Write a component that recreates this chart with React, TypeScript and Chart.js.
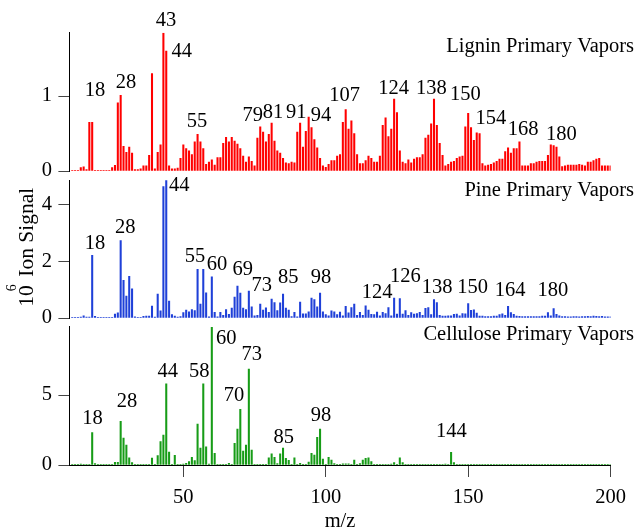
import React, { useEffect, useRef } from 'react';
import { Chart, registerables } from 'chart.js';

Chart.register(...registerables);

const FONT = '"Liberation Serif", "Times New Roman", serif';

// m/z categories 11..200
const MZ_FIRST = 11;
const MZ_LAST = 200;
const mz: number[] = [];
for (let m = MZ_FIRST; m <= MZ_LAST; m++) mz.push(m);

const xTicks = [50, 100, 150, 200];

const lignin = [
  0.01, 0.01, 0.01, 0.045, 0.055, 0.02, 0.65, 0.65, 0.01, 0.01,
  0.01, 0.01, 0.01, 0.01, 0.045, 0.075, 0.91, 1.01, 0.33, 0.25,
  0.32, 0.24, 0.02, 0.02, 0.03, 0.07, 0.07, 0.21, 1.30, 0.03,
  0.25, 0.35, 1.84, 1.60, 0.07, 0.03, 0.03, 0.04, 0.17, 0.35,
  0.30, 0.27, 0.22, 0.39, 0.49, 0.39, 0.30, 0.09, 0.12, 0.15,
  0.08, 0.18, 0.18, 0.37, 0.45, 0.39, 0.45, 0.40, 0.36, 0.30,
  0.20, 0.12, 0.19, 0.13, 0.07, 0.44, 0.59, 0.52, 0.39, 0.49,
  0.64, 0.40, 0.27, 0.24, 0.17, 0.11, 0.10, 0.12, 0.11, 0.52,
  0.64, 0.32, 0.53, 0.72, 0.58, 0.42, 0.31, 0.17, 0.07, 0.05,
  0.09, 0.14, 0.14, 0.20, 0.22, 0.65, 0.82, 0.56, 0.67, 0.50,
  0.22, 0.10, 0.10, 0.14, 0.20, 0.17, 0.12, 0.12, 0.20, 0.61,
  0.71, 0.46, 0.56, 0.96, 0.78, 0.27, 0.12, 0.10, 0.15, 0.11,
  0.16, 0.18, 0.18, 0.22, 0.44, 0.48, 0.63, 0.96, 0.61, 0.37,
  0.21, 0.07, 0.09, 0.12, 0.13, 0.17, 0.19, 0.20, 0.59, 0.77,
  0.58, 0.41, 0.51, 0.50, 0.10, 0.07, 0.08, 0.09, 0.11, 0.13,
  0.16, 0.16, 0.26, 0.31, 0.24, 0.30, 0.30, 0.39, 0.07, 0.07,
  0.07, 0.10, 0.10, 0.12, 0.13, 0.13, 0.13, 0.21, 0.35, 0.34,
  0.32, 0.19, 0.06, 0.07, 0.08, 0.08, 0.08, 0.08, 0.09, 0.08,
  0.07, 0.12, 0.12, 0.14, 0.16, 0.17, 0.07, 0.07, 0.07, 0.07,
];

const pine = [
  0.02, 0.02, 0.02, 0.03, 0.08, 0.03, 0.03, 2.21, 0.06, 0.02,
  0.02, 0.02, 0.02, 0.02, 0.02, 0.14, 0.18, 2.73, 1.33, 0.77,
  1.47, 1.03, 0.04, 0.02, 0.02, 0.06, 0.07, 0.07, 0.42, 0.03,
  0.84, 0.25, 4.63, 4.84, 0.60, 0.12, 0.07, 0.03, 0.05, 0.19,
  0.28, 0.22, 0.30, 0.26, 1.71, 0.49, 1.71, 0.89, 0.04, 1.45,
  0.20, 0.04, 0.20, 0.09, 0.30, 0.13, 0.35, 0.74, 1.12, 0.88,
  0.35, 0.30, 0.95, 0.39, 0.08, 0.09, 0.49, 0.28, 0.36, 0.20,
  0.67, 0.54, 0.26, 0.53, 0.84, 0.35, 0.28, 0.05, 0.20, 0.04,
  0.56, 0.15, 0.15, 0.22, 0.70, 0.65, 0.39, 0.88, 0.22, 0.12,
  0.08, 0.25, 0.22, 0.12, 0.21, 0.08, 0.41, 0.18, 0.37, 0.49,
  0.09, 0.20, 0.09, 0.43, 0.28, 0.13, 0.12, 0.21, 0.08, 0.20,
  0.16, 0.37, 0.08, 0.70, 0.14, 0.68, 0.14, 0.26, 0.09, 0.19,
  0.14, 0.16, 0.20, 0.09, 0.34, 0.37, 0.12, 0.65, 0.54, 0.09,
  0.07, 0.07, 0.08, 0.08, 0.13, 0.14, 0.08, 0.16, 0.15, 0.51,
  0.27, 0.29, 0.17, 0.07, 0.07, 0.05, 0.05, 0.05, 0.07, 0.07,
  0.12, 0.15, 0.09, 0.41, 0.19, 0.13, 0.07, 0.06, 0.05, 0.05,
  0.05, 0.05, 0.05, 0.05, 0.05, 0.07, 0.07, 0.19, 0.08, 0.33,
  0.13, 0.08, 0.05, 0.05, 0.04, 0.04, 0.05, 0.05, 0.04, 0.05,
  0.05, 0.06, 0.05, 0.07, 0.06, 0.05, 0.06, 0.04, 0.04, 0.04,
];

const cellulose = [
  0.04, 0.04, 0.05, 0.07, 0.05, 0.04, 0.04, 2.31, 0.10, 0.03,
  0.03, 0.03, 0.03, 0.03, 0.03, 0.19, 0.19, 3.12, 1.93, 1.43,
  0.52, 0.17, 0.04, 0.04, 0.04, 0.04, 0.05, 0.05, 0.50, 0.05,
  0.67, 1.67, 2.14, 5.79, 0.93, 0.05, 0.69, 0.05, 0.05, 0.07,
  0.12, 0.24, 0.55, 0.31, 2.93, 1.21, 5.79, 1.29, 0.07, 9.83,
  0.83, 0.05, 0.04, 0.02, 0.05, 0.12, 0.05, 1.55, 2.57, 3.98,
  1.00, 1.43, 6.86, 1.07, 0.05, 0.02, 0.04, 0.05, 0.05, 0.52,
  0.79, 0.55, 0.10, 0.79, 1.21, 0.48, 0.33, 0.05, 0.52, 0.05,
  0.12, 0.05, 0.04, 0.20, 0.83, 0.71, 1.98, 2.57, 0.43, 0.05,
  0.55, 0.36, 0.10, 0.05, 0.05, 0.08, 0.08, 0.08, 0.05, 0.36,
  0.05, 0.10, 0.36, 0.48, 0.52, 0.24, 0.05, 0.05, 0.04, 0.04,
  0.04, 0.05, 0.06, 0.17, 0.05, 0.52, 0.17, 0.05, 0.04, 0.04,
  0.04, 0.04, 0.04, 0.04, 0.04, 0.04, 0.04, 0.04, 0.04, 0.04,
  0.04, 0.06, 0.05, 0.90, 0.17, 0.05, 0.04, 0.04, 0.04, 0.03,
  0.03, 0.03, 0.04, 0.03, 0.03, 0.03, 0.04, 0.04, 0.04, 0.04,
  0.03, 0.03, 0.03, 0.03, 0.03, 0.03, 0.03, 0.03, 0.03, 0.03,
  0.03, 0.03, 0.03, 0.04, 0.03, 0.03, 0.04, 0.03, 0.03, 0.03,
  0.03, 0.03, 0.03, 0.03, 0.03, 0.03, 0.03, 0.03, 0.03, 0.03,
  0.03, 0.03, 0.03, 0.03, 0.03, 0.04, 0.03, 0.03, 0.03, 0.03,
];

// peak labels: [text, m/z position, signal position]
const ligninLabels: [string, number, number][] = [
  ['18', 18.99, 1.067], ['28', 29.87, 1.173], ['43', 43.92, 2.0], ['44', 49.43, 1.587],
  ['55', 54.8, 0.653], ['79', 74.36, 0.733], ['81', 81.49, 0.773], ['91', 89.67, 0.773],
  ['94', 98.34, 0.733], ['107', 106.66, 1.007], ['124', 123.87, 1.1], ['138', 137.07, 1.1],
  ['150', 149.0, 1.017], ['154', 157.93, 0.693], ['168', 169.27, 0.547], ['180', 182.72, 0.48],
];
const pineLabels: [string, number, number][] = [
  ['18', 18.99, 2.63], ['28', 29.63, 3.2], ['44', 48.59, 4.67], ['55', 54.1, 2.15],
  ['60', 61.83, 1.87], ['69', 70.85, 1.69], ['73', 77.52, 1.13], ['85', 86.86, 1.41],
  ['98', 98.34, 1.41], ['124', 118.0, 0.88], ['126', 127.94, 1.46], ['138', 139.07, 1.06],
  ['150', 151.6, 1.06], ['164', 164.7, 0.95], ['180', 179.7, 0.95],
];
const celluloseLabels: [string, number, number][] = [
  ['18', 18.14, 3.29], ['28', 30.22, 4.54], ['44', 44.51, 6.68], ['58', 55.6, 6.68],
  ['60', 65.1, 9.0], ['70', 67.8, 4.93], ['73', 74.0, 7.86], ['85', 85.25, 1.96],
  ['98', 98.34, 3.5], ['144', 144.1, 2.36],
];

interface Panel {
  title: string;
  values: number[];
  color: string;
  yMax: number;
  yTicks: number[];
  labels: [string, number, number][];
  top: number;
  bottom: number;
  titleDy: number;
  showX: boolean;
  yTitle: boolean;
}

const W = 639;
const H = 531;
const PLOT_LEFT = 69.4;
const PLOT_RIGHT = 610.6;

const panels: Panel[] = [
  { title: 'Lignin Primary Vapors', values: lignin, color: '#ff0000', yMax: 1.844, yTicks: [0, 1],
    labels: ligninLabels, top: 32.7, bottom: 171, titleDy: 14, showX: false, yTitle: false },
  { title: 'Pine Primary Vapors', values: pine, color: '#1f40d8', yMax: 4.86, yTicks: [0, 2, 4],
    labels: pineLabels, top: 180, bottom: 318, titleDy: 10.5, showX: false, yTitle: true },
  { title: 'Cellulose Primary Vapors', values: cellulose, color: '#179c17', yMax: 9.88, yTicks: [0, 5],
    labels: celluloseLabels, top: 326.7, bottom: 465, titleDy: 7.5, showX: true, yTitle: false },
];

function makeAnnotPlugin(p: Panel) {
  return {
    id: 'annot',
    afterDatasetsDraw(chart: any) {
      const { ctx, chartArea } = chart;
      const xs = chart.scales.x;
      const ys = chart.scales.y;
      ctx.save();
      ctx.fillStyle = '#000';
      ctx.font = `20.5px ${FONT}`;
      ctx.textAlign = 'center';
      ctx.textBaseline = 'middle';
      p.labels.forEach(([t, m, v]) => {
        ctx.fillText(t, xs.getPixelForValue(m), ys.getPixelForValue(v));
      });
      ctx.textAlign = 'right';
      ctx.fillText(p.title, chartArea.right + 23.5, chartArea.top + p.titleDy);
      if (p.yTitle) {
        ctx.translate(33.3, 306.7);
        ctx.rotate(-Math.PI / 2);
        ctx.textAlign = 'left';
        ctx.textBaseline = 'alphabetic';
        ctx.font = `21.5px ${FONT}`;
        ctx.fillText('10', 0, 0);
        ctx.font = `14px ${FONT}`;
        ctx.fillText('6', 15.5, -17);
        ctx.font = `21.5px ${FONT}`;
        ctx.fillText('Ion Signal', 30, 0);
      }
      ctx.restore();
    },
  };
}

function PanelChart({ p }: { p: Panel }) {
  const ref = useRef<HTMLCanvasElement>(null);
  useEffect(() => {
    if (!ref.current) return;
    const chart = new Chart(ref.current, {
      type: 'bar',
      data: {
        datasets: [
          {
            data: mz.map((m, i) => ({ x: m, y: p.values[i] })),
            backgroundColor: p.color,
            borderWidth: 0,
            barThickness: 1.4,
            grouped: false,
          } as any,
        ],
      },
      options: {
        animation: false,
        responsive: false,
        devicePixelRatio: 1,
        events: [],
        layout: {
          padding: {
            top: p.top,
            bottom: p.showX ? 0 : H - p.bottom,
            left: 0,
            right: W - PLOT_RIGHT,
          },
        },
        plugins: { legend: { display: false }, tooltip: { enabled: false }, title: { display: false } },
        scales: {
          x: {
            type: 'linear',
            min: 10,
            max: 200,
            offset: false,
            display: p.showX,
            afterBuildTicks: (s: any) => { s.ticks = xTicks.map((v) => ({ value: v })); },
            afterFit: (s: any) => { if (p.showX) s.height = H - p.bottom; },
            grid: { offset: false, drawOnChartArea: false, tickLength: 12, tickColor: '#444', tickWidth: 1 },
            border: { display: true, color: '#000', width: 1 },
            ticks: { font: { family: FONT, size: 20.5 }, color: '#000', padding: 8, maxRotation: 0, autoSkip: false },
            title: { display: true, text: 'm/z', font: { family: FONT, size: 20.5, lineHeight: 1 }, color: '#000', padding: { top: 0, bottom: -1 } },
          },
          y: {
            type: 'linear',
            position: 'left',
            min: 0,
            max: p.yMax,
            afterBuildTicks: (s: any) => { s.ticks = p.yTicks.map((v) => ({ value: v })); },
            afterFit: (s: any) => { s.width = PLOT_LEFT; },
            grid: { drawOnChartArea: false, tickLength: 11, tickColor: '#444', tickWidth: 1 },
            border: { display: true, color: '#000', width: 1 },
            ticks: { font: { family: FONT, size: 20.5 }, color: '#000', padding: 6.5 },
          },
        },
      } as any,
      plugins: [makeAnnotPlugin(p)],
    });
    return () => chart.destroy();
  }, [p]);
  return (
    <canvas
      ref={ref}
      width={W}
      height={H}
      style={{ position: 'absolute', left: 0, top: 0, width: W, height: H }}
    />
  );
}

export default function App() {
  return (
    <div style={{ position: 'absolute', left: 0, top: 0, width: W, height: H, background: '#fff' }}>
      {panels.map((p, i) => (
        <PanelChart key={i} p={p} />
      ))}
    </div>
  );
}
